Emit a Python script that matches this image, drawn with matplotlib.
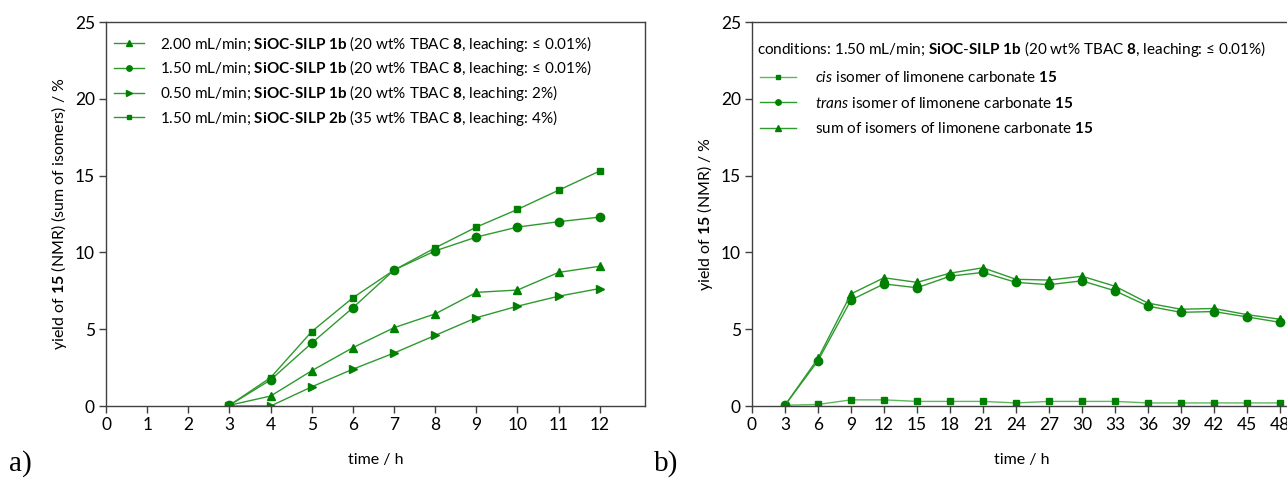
import numpy as np
import matplotlib
matplotlib.use("Agg")
import matplotlib.pyplot as plt

plt.rcParams['font.family'] = ['Lato', 'DejaVu Sans']
plt.rcParams['mathtext.fontset'] = 'custom'
plt.rcParams['mathtext.rm'] = 'Lato'
plt.rcParams['mathtext.bf'] = 'Lato:bold'
plt.rcParams['mathtext.it'] = 'Lato:italic'
plt.rcParams['font.size'] = 11

# data, panel a
time_a = [3, 4, 5, 6, 7, 8, 9, 10, 11, 12]
flow_200_1b = [0.05, 0.65, 2.3, 3.8, 5.1, 6.0, 7.4, 7.55, 8.7, 9.1]
flow_150_1b = [0.05, 1.7, 4.1, 6.4, 8.85, 10.1, 11.0, 11.65, 12.0, 12.3]
flow_050_1b = [0.0, 0.0, 1.25, 2.4, 3.45, 4.6, 5.75, 6.5, 7.15, 7.65]
flow_150_2b = [0.05, 1.85, 4.85, 7.05, 8.85, 10.3, 11.65, 12.8, 14.05, 15.3]
labels_a = [r"2.00 mL/min; $\mathbf{SiOC}$-$\mathbf{SILP\ 1b}$ (20 wt% TBAC $\mathbf{8}$, leaching: ≤ 0.01%)",
            r"1.50 mL/min; $\mathbf{SiOC}$-$\mathbf{SILP\ 1b}$ (20 wt% TBAC $\mathbf{8}$, leaching: ≤ 0.01%)",
            r"0.50 mL/min; $\mathbf{SiOC}$-$\mathbf{SILP\ 1b}$ (20 wt% TBAC $\mathbf{8}$, leaching: 2%)",
            r"1.50 mL/min; $\mathbf{SiOC}$-$\mathbf{SILP\ 2b}$ (35 wt% TBAC $\mathbf{8}$, leaching: 4%)"]

# data, panel b
time_b = [3, 6, 9, 12, 15, 18, 21, 24, 27, 30, 33, 36, 39, 42, 45, 48]
cis_15 = [0.05, 0.1, 0.4, 0.4, 0.3, 0.3, 0.3, 0.2, 0.3, 0.3, 0.3, 0.2, 0.2, 0.2, 0.2, 0.2]
trans_15 = [0.05, 2.95, 6.9, 7.95, 7.7, 8.45, 8.7, 8.05, 7.9, 8.15, 7.5, 6.5, 6.1, 6.15, 5.8, 5.45]
sum_15 = [0.05, 3.1, 7.3, 8.35, 8.05, 8.65, 9.0, 8.25, 8.2, 8.45, 7.8, 6.7, 6.3, 6.35, 5.95, 5.65]
labels_b = [r"$\mathit{cis}$ isomer of limonene carbonate $\mathbf{15}$",
            r"$\mathit{trans}$ isomer of limonene carbonate $\mathbf{15}$",
            r"sum of isomers of limonene carbonate $\mathbf{15}$"]

mk = "#008000"
ln = "#2e9a2e"

fig = plt.figure(figsize=(12.87, 4.78), dpi=100)
ax1 = fig.add_axes([0.0824, 0.1506, 0.4188, 0.8033])
ax2 = fig.add_axes([0.5843, 0.1506, 0.4188, 0.8033])

def style(ax):
    for s in ax.spines.values():
        s.set_color("#404040")
        s.set_linewidth(1.0)
    ax.tick_params(direction="out", length=5, width=1, color="#404040", labelsize=12.5, pad=3)
    ax.set_ylim(0, 25)
    ax.set_yticks([0, 5, 10, 15, 20, 25])

# panel a
ax1.plot(time_a, flow_200_1b, color=ln, lw=1, marker="^", ms=6, mfc=mk, mec=mk)
ax1.plot(time_a, flow_150_1b, color=ln, lw=1, marker="o", ms=6, mfc=mk, mec=mk)
ax1.plot(time_a, flow_050_1b, color=ln, lw=1, marker=">", ms=6, mfc=mk, mec=mk)
ax1.plot(time_a, flow_150_2b, color=ln, lw=1, marker="s", ms=5, mfc=mk, mec=mk)
style(ax1)
ax1.set_xlim(0, 13.1)
ax1.set_xticks(range(0, 13))
ax1.set_xlabel("time / h", fontsize=11.5)
ax1.xaxis.set_label_coords(0.5, -0.122)
ax1.set_ylabel(r"yield of $\mathbf{15}$ (NMR) (sum of isomers) / %", fontsize=11.5)
ax1.legend(labels_a, loc="upper left", frameon=False, fontsize=11, markerscale=0.65,
           handlelength=2.0, handletextpad=1.0, labelspacing=0.31,
           bbox_to_anchor=(0.0, 0.99), borderaxespad=0.1)

# panel b
ax2.plot(time_b, cis_15, color="#5cb85c", lw=1, marker="s", ms=5, mfc=mk, mec=mk)
ax2.plot(time_b, trans_15, color=ln, lw=1, marker="o", ms=6, mfc=mk, mec=mk)
ax2.plot(time_b, sum_15, color=ln, lw=1, marker="^", ms=6, mfc=mk, mec=mk)
style(ax2)
ax2.set_xlim(0, 49)
ax2.set_xticks(range(0, 49, 3))
ax2.set_xlabel("time / h", fontsize=11.5)
ax2.xaxis.set_label_coords(0.5, -0.122)
ax2.set_ylabel(r"yield of $\mathbf{15}$ (NMR) / %", fontsize=11.5)
ax2.text(0.01, 0.93, r"conditions: 1.50 mL/min; $\mathbf{SiOC}$-$\mathbf{SILP\ 1b}$ (20 wt% TBAC $\mathbf{8}$, leaching: ≤ 0.01%)",
         transform=ax2.transAxes, fontsize=11, va="center", ha="left")
ax2.legend(labels_b, loc="upper left", frameon=False, fontsize=11, markerscale=0.65,
           handlelength=2.4, handletextpad=1.2, labelspacing=0.68,
           bbox_to_anchor=(0.003, 0.89), borderaxespad=0.0)

# panel letters
fig.text(0.007, 0.015, "a)", family="Liberation Serif", fontsize=21, va="baseline")
fig.text(0.508, 0.015, "b)", family="Liberation Serif", fontsize=21, va="baseline")

fig.savefig("out.png", dpi=100)
